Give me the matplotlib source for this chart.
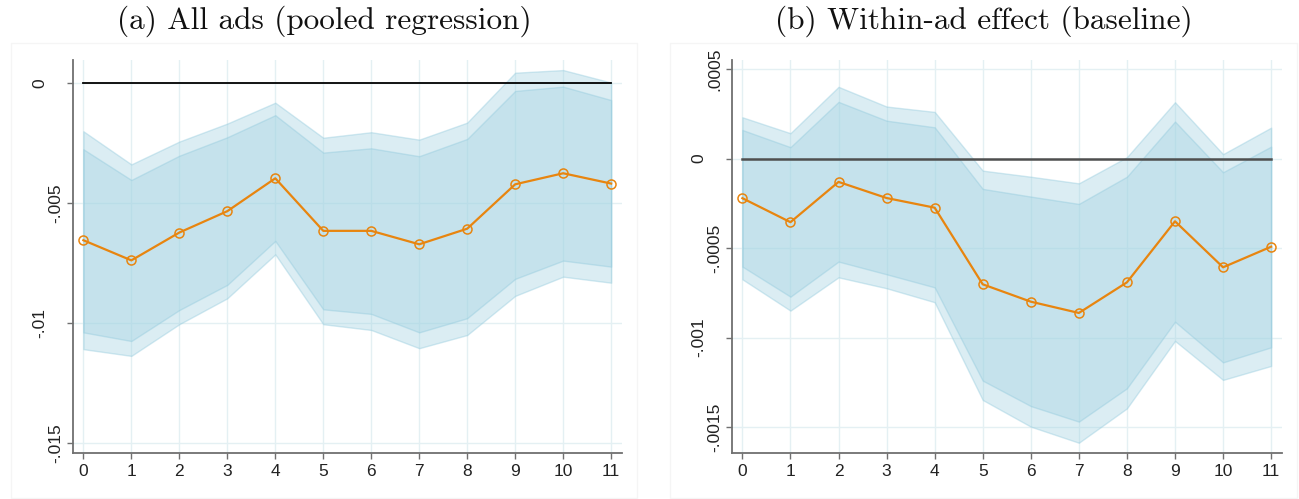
import matplotlib
matplotlib.use("Agg")
import matplotlib.pyplot as plt
from matplotlib.patches import Rectangle
import numpy as np

# Horizon (weeks after exposure)
horizon = list(range(12))

# Panel (a): all ads, pooled regression
pooled_coef = [-0.00654, -0.00738, -0.00622, -0.00533, -0.00396, -0.00615,
               -0.00615, -0.00671, -0.00606, -0.00421, -0.00375, -0.00418]
pooled_ci95_hi = [-0.00275, -0.00403, -0.00302, -0.00225, -0.00133, -0.00289,
                  -0.00271, -0.00304, -0.00232, -0.00032, -0.00014, -0.00070]
pooled_ci95_lo = [-0.01038, -0.01074, -0.00945, -0.00840, -0.00657, -0.00942,
                  -0.00961, -0.01038, -0.00979, -0.00815, -0.00739, -0.00764]
pooled_ci99_hi = [-0.00200, -0.00338, -0.00243, -0.00168, -0.00081, -0.00227,
                  -0.00204, -0.00235, -0.00164, 0.00044, 0.00055, 0.00003]
pooled_ci99_lo = [-0.01108, -0.01136, -0.01004, -0.00896, -0.00713, -0.01004,
                  -0.01028, -0.01104, -0.01049, -0.00886, -0.00806, -0.00831]
pooled_yticks = [0, -0.005, -0.01, -0.015]
pooled_ylabels = ["0", "-.005", "-.01", "-.015"]

# Panel (b): within-ad effect, baseline
within_coef = [-0.000221, -0.000355, -0.000130, -0.000220, -0.000274, -0.000702,
               -0.000799, -0.000862, -0.000691, -0.000350, -0.000607, -0.000492]
within_ci95_hi = [0.000160, 0.000064, 0.000317, 0.000212, 0.000175, -0.000169,
                  -0.000212, -0.000253, -0.000101, 0.000207, -0.000076, 0.000067]
within_ci95_lo = [-0.000603, -0.000771, -0.000575, -0.000646, -0.000719, -0.001240,
                  -0.001382, -0.001469, -0.001283, -0.000911, -0.001138, -0.001054]
within_ci99_hi = [0.000231, 0.000142, 0.000401, 0.000291, 0.000261, -0.000067,
                  -0.000101, -0.000138, 0.000008, 0.000315, 0.000025, 0.000173]
within_ci99_lo = [-0.000674, -0.000849, -0.000663, -0.000724, -0.000802, -0.001348,
                  -0.001497, -0.001587, -0.001395, -0.001018, -0.001236, -0.001158]
within_yticks = [0.0005, 0, -0.0005, -0.001, -0.0015]
within_ylabels = [".0005", "0", "-.0005", "-.001", "-.0015"]

titles = ["(a) All ads (pooled regression)", "(b) Within-ad effect (baseline)"]

BAND = "#a2d2e2"
ORANGE = "#e8850f"
GRID = "#e4f0f3"
SPINE = "#707070"

plt.rcParams["font.family"] = ["Liberation Sans", "DejaVu Sans"]

W, H = 1299, 499
fig = plt.figure(figsize=(W / 100, H / 100), dpi=100)


def px_axes(x0, x1, top, bottom):
    return fig.add_axes([x0 / W, 1 - bottom / H, (x1 - x0) / W, (bottom - top) / H])


def draw_panel(ax, coef, lo95, hi95, lo99, hi99, yticks, ylabels, ylim, zero_color, zero_lw):
    x = np.array(horizon)
    ax.set_xlim(-0.21, 11.22)
    ax.set_ylim(*ylim)
    for xv in horizon:
        ax.axvline(xv, color=GRID, lw=1.0, zorder=0)
    for yv in yticks:
        ax.axhline(yv, color=GRID, lw=1.0, zorder=0)
    ax.fill_between(x, lo99, hi99, facecolor=BAND, alpha=0.38,
                    edgecolor=(0.55, 0.78, 0.86, 0.35), lw=1.0, zorder=1)
    ax.fill_between(x, lo95, hi95, facecolor=BAND, alpha=0.38,
                    edgecolor=(0.55, 0.78, 0.86, 0.35), lw=1.0, zorder=2)
    ax.plot([horizon[0], horizon[-1]], [0, 0], color=zero_color, lw=zero_lw, zorder=3)
    ax.plot(x, coef, color=ORANGE, lw=1.6, marker="o", markersize=6.5,
            markerfacecolor="none", markeredgecolor=ORANGE, markeredgewidth=1.1, zorder=4)

    ax.set_xticks(horizon)
    ax.set_xticklabels([str(h) for h in horizon])
    ax.set_yticks(yticks)
    ax.set_yticklabels(ylabels, rotation=90, va="center")
    for s in ("top", "right"):
        ax.spines[s].set_visible(False)
    for s in ("left", "bottom"):
        ax.spines[s].set_color(SPINE)
        ax.spines[s].set_linewidth(1.3)
    ax.tick_params(axis="both", colors=SPINE, length=4.5, width=1.0, labelsize=12.5,
                   labelcolor="#222222")
    ax.tick_params(axis="x", pad=3)
    # alternate the y labels between two distances from the axis
    ticks = ax.yaxis.get_major_ticks()
    order = np.argsort(yticks)
    for rank, idx in enumerate(order):
        ticks[idx].set_pad(2.5 if rank % 2 == 0 else 14.5)


axL = px_axes(73.3, 621.7, 60, 453.3)
draw_panel(axL, pooled_coef, pooled_ci95_lo, pooled_ci95_hi, pooled_ci99_lo, pooled_ci99_hi,
           pooled_yticks, pooled_ylabels, (-0.01542, 0.00097), "black", 1.3)

axR = px_axes(732.3, 1281.7, 60, 453.3)
draw_panel(axR, within_coef, within_ci95_lo, within_ci95_hi, within_ci99_lo, within_ci99_hi,
           within_yticks, within_ylabels, (-0.001646, 0.000551), "#4f4f4f", 1.8)

# faint frames around each subplot and the titles above them
for (bx0, bx1), title in zip([(11, 637), (670, 1297)], titles):
    fig.add_artist(Rectangle((bx0 / W, 1 - 498 / H), (bx1 - bx0) / W, (498 - 43) / H,
                             transform=fig.transFigure, fill=False,
                             edgecolor="#f5f5f5", lw=1.0))
    fig.text((bx0 + bx1) / 2 / W, 1 - 21 / H, title, ha="center", va="center",
             fontsize=22.5, family="cmr10", color="#111111")

fig.savefig("out.png", dpi=100)
